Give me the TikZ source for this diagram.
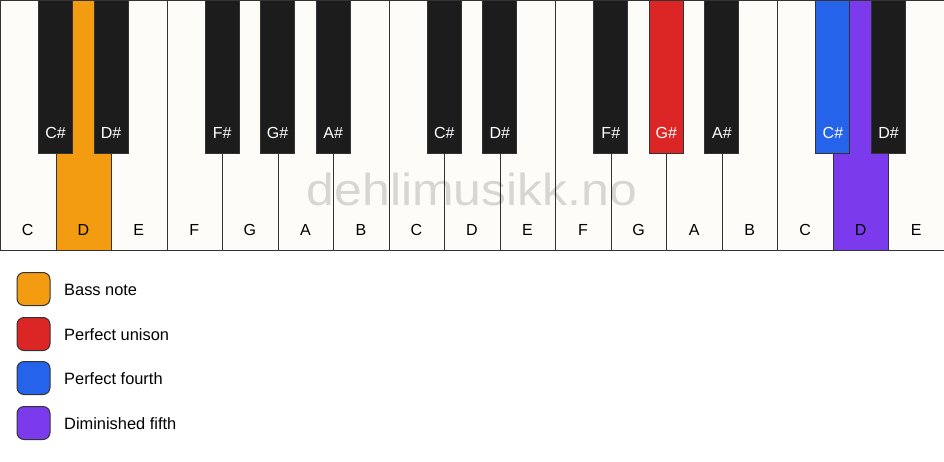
\documentclass[tikz,border=0pt]{standalone}
\usepackage{fontspec}
\setmainfont{Liberation Sans}
\definecolor{keywhite}{HTML}{FDFCF9}
\definecolor{keyblack}{HTML}{1C1C1C}
\definecolor{keyedge}{HTML}{333333}
\definecolor{bassc}{HTML}{F39C12}
\definecolor{unisonc}{HTML}{DC2626}
\definecolor{fourthc}{HTML}{2563EB}
\definecolor{fifthc}{HTML}{7C3AED}
\begin{document}
\begin{tikzpicture}[x=1pt,y=-1pt,
  whitekey/.style={draw=keyedge,line width=1pt,fill=keywhite,rectangle,minimum width=55.53pt,minimum height=250pt,anchor=north west,inner sep=0pt},
  blackkey/.style={draw=keyedge,line width=1pt,fill=keyblack,rectangle,minimum width=34pt,minimum height=153pt,anchor=north,inner sep=0pt},
  wlabel/.style={font=\fontsize{16}{18}\selectfont,text=black,anchor=center},
  blabel/.style={font=\fontsize{16}{18}\selectfont,text=white,anchor=center},
  legbox/.style={draw=keyedge,line width=1pt,rounded corners=7pt,minimum width=33pt,minimum height=33pt,inner sep=0pt,anchor=center},
  legtext/.style={font=\fontsize{16.4}{18}\selectfont,anchor=west,inner sep=0pt}]
\useasboundingbox (0,0) rectangle (944,461);
\fill[white] (0,0) rectangle (944,461);
% white keys
\foreach \n/\i/\c in {C/0/keywhite,D/1/bassc,E/2/keywhite,F/3/keywhite,G/4/keywhite,A/5/keywhite,B/6/keywhite,
  C/7/keywhite,D/8/keywhite,E/9/keywhite,F/10/keywhite,G/11/keywhite,A/12/keywhite,B/13/keywhite,
  C/14/keywhite,D/15/fifthc,E/16/keywhite}{
  \node[whitekey,fill=\c] (w\i) at ({\i*55.5294},0) {};
  \node[wlabel] (wl\i) at ({(\i+0.5)*55.5294},230) {\n};
}
% watermark
\node[font=\fontsize{45}{50}\selectfont,text=black,text opacity=0.15,anchor=base,inner sep=0pt,xscale=1.11] (wm) at (472,205) {dehlimusikk.no};
% black keys
\foreach \n/\b/\c/\t in {C\#/1/keyblack/white,D\#/2/keyblack/white,F\#/4/keyblack/white,G\#/5/keyblack/white,A\#/6/keyblack/white,
  C\#/8/keyblack/white,D\#/9/keyblack/white,F\#/11/keyblack/white,G\#/12/unisonc/white,A\#/13/keyblack/white,
  C\#/15/fourthc/white,D\#/16/keyblack/white}{
  \node[blackkey,fill=\c] (b\b) at ({\b*55.5294},0) {};
  \node[blabel,text=\t] (bl\b) at ({\b*55.5294},133) {\n};
}
% legend
\node[legbox,fill=bassc] (l1) at (33.5,289) {};
\node[legtext] (t1) at (64,289.5) {Bass note};
\node[legbox,fill=unisonc] (l2) at (33.5,334) {};
\node[legtext] (t2) at (64,334.5) {Perfect unison};
\node[legbox,fill=fourthc] (l3) at (33.5,378) {};
\node[legtext] (t3) at (64,378.5) {Perfect fourth};
\node[legbox,fill=fifthc] (l4) at (33.5,423) {};
\node[legtext] (t4) at (64,423.5) {Diminished fifth};
\end{tikzpicture}
\end{document}
